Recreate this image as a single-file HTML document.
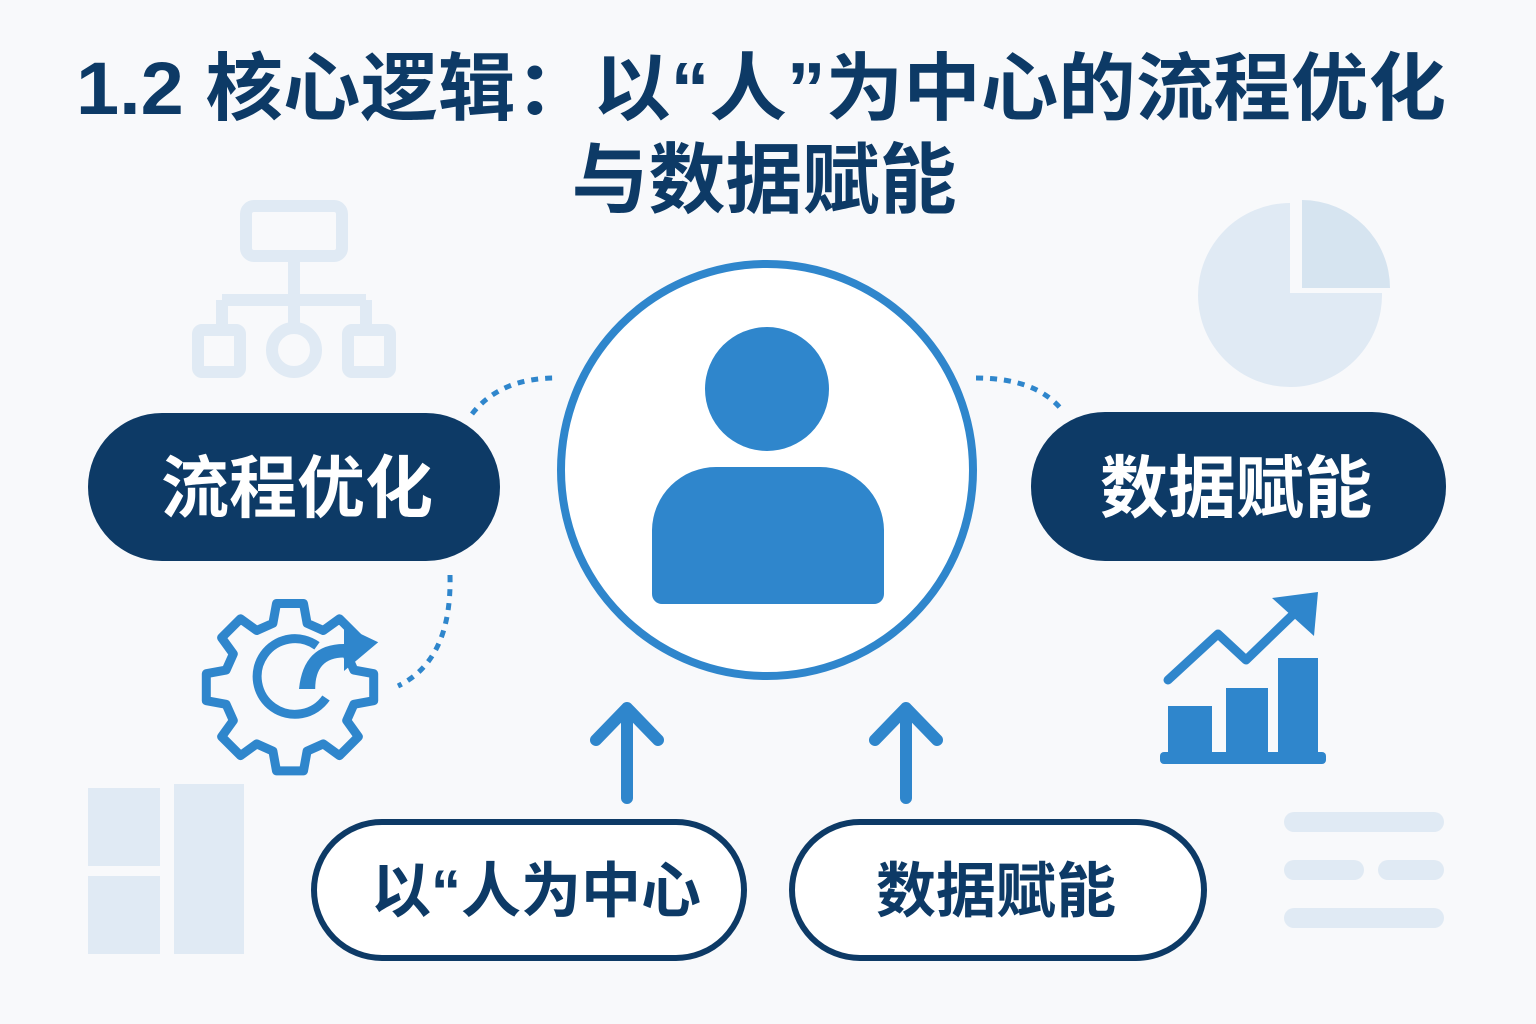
<!DOCTYPE html>
<html><head><meta charset="utf-8"><style>
html,body{margin:0;padding:0;background:#f8f9fb;}
svg{display:block}
</style></head><body>
<svg width="1536" height="1024" viewBox="0 0 1536 1024" xmlns="http://www.w3.org/2000/svg" font-family="'Liberation Sans','Noto Sans CJK SC',sans-serif">
<rect width="1536" height="1024" fill="#f8f9fb"/>
<g fill="none" stroke="#e0eaf4" stroke-width="12">
 <rect x="246" y="206" width="96" height="50" rx="8"/>
 <path d="M294 256 V300 M222 300 H366 M222 300 V330 M366 300 V330 M294 300 V325"/>
 <rect x="198" y="330" width="42" height="42" rx="4"/>
 <rect x="348" y="330" width="42" height="42" rx="4"/>
 <circle cx="294" cy="350" r="22"/>
</g>
<path d="M1290 293 L1290 203 A92 92 0 1 0 1382 293 Z" fill="#e0eaf4"/>
<path d="M1302 200 A88 88 0 0 1 1390 288 L1302 288 Z" fill="#d6e4f0"/>
<g fill="#e0eaf4">
 <rect x="88" y="788" width="72" height="78"/>
 <rect x="88" y="876" width="72" height="78"/>
 <rect x="174" y="784" width="70" height="170"/>
 <rect x="1284" y="812" width="160" height="20" rx="10"/>
 <rect x="1284" y="860" width="80" height="20" rx="10"/>
 <rect x="1378" y="860" width="66" height="20" rx="10"/>
 <rect x="1284" y="908" width="160" height="20" rx="10"/>
</g>
<g fill="#0d3a66" font-weight="bold">
 <text x="76" y="114" font-size="74" textLength="1370" lengthAdjust="spacingAndGlyphs">1.2 核心逻辑：以“人”为中心的流程优化</text>
 <text x="764" y="207" font-size="77" text-anchor="middle">与数据赋能</text>
</g>
<g fill="none" stroke="#2f86cc" stroke-width="5" stroke-dasharray="7 7">
 <path d="M472 414 Q500 378 556 378"/>
 <path d="M976 378 Q1036 378 1062 410"/>
 <path d="M450 575 Q452 660 398 686"/>
</g>
<circle cx="767" cy="470" r="206" fill="#fff" stroke="#2f86cc" stroke-width="8"/>
<circle cx="767" cy="389" r="62" fill="#2f86cc"/>
<path d="M652 604 V530 A64 64 0 0 1 716 467 H820 A64 64 0 0 1 884 530 V594 A10 10 0 0 1 874 604 H662 A10 10 0 0 1 652 594 Z" fill="#2f86cc"/>
<rect x="88" y="413" width="412" height="148" rx="74" fill="#0d3a66"/>
<text x="297" y="512" font-size="68" font-weight="bold" fill="#fff" text-anchor="middle">流程优化</text>
<rect x="1031" y="412" width="415" height="149" rx="74" fill="#0d3a66"/>
<text x="1236" y="512" font-size="68" font-weight="bold" fill="#fff" text-anchor="middle">数据赋能</text>
<g fill="none" stroke="#2f86cc" stroke-width="12" stroke-linecap="round" stroke-linejoin="round">
 <path d="M627 798 V708 M596 740 L627 708 L658 740"/>
 <path d="M906 798 V708 M875 740 L906 708 L937 740"/>
</g>
<rect x="314" y="822" width="430" height="136" rx="68" fill="#fff" stroke="#0d3a66" stroke-width="6"/>
<text x="536" y="912" font-size="60" font-weight="bold" fill="#0d3a66" text-anchor="middle">以“人为中心</text>
<rect x="792" y="822" width="412" height="136" rx="68" fill="#fff" stroke="#0d3a66" stroke-width="6"/>
<text x="996" y="912" font-size="60" font-weight="bold" fill="#0d3a66" text-anchor="middle">数据赋能</text>
<g transform="translate(290 680) scale(0.9) translate(-290 -680)">
<g fill="none" stroke="#2f86cc" stroke-width="10" stroke-linejoin="round">
 <path d="M275 595 h30 l4 22 l18 8 l18 -13 l21 21 l-13 18 l8 18 l22 4 v30 l-22 4 l-8 18 l13 18 l-21 21 l-18 -13 l-18 8 l-4 22 h-30 l-4 -22 l-18 -8 l-18 13 l-21 -21 l13 -18 l-8 -18 l-22 -4 v-30 l22 -4 l8 -18 l-13 -18 l21 -21 l18 13 l18 -8 z"/>
 <path d="M320 642 A42 42 0 1 0 330 700"/>
</g>
<path d="M300 690 Q305 640 350 640 V620 L388 638 L350 670 V655 Q318 655 318 690 Z" fill="#2f86cc"/>
</g>
<g fill="#2f86cc">
 <rect x="1168" y="706" width="44" height="52"/>
 <rect x="1226" y="688" width="42" height="70"/>
 <rect x="1278" y="658" width="40" height="100"/>
 <rect x="1160" y="752" width="166" height="12" rx="4"/>
</g>
<path d="M1168 680 L1218 634 L1246 660 L1306 602" fill="none" stroke="#2f86cc" stroke-width="9" stroke-linecap="round" stroke-linejoin="round"/>
<path d="M1272 598 L1318 592 L1314 636 Z" fill="#2f86cc"/>
</svg>
</body></html>
